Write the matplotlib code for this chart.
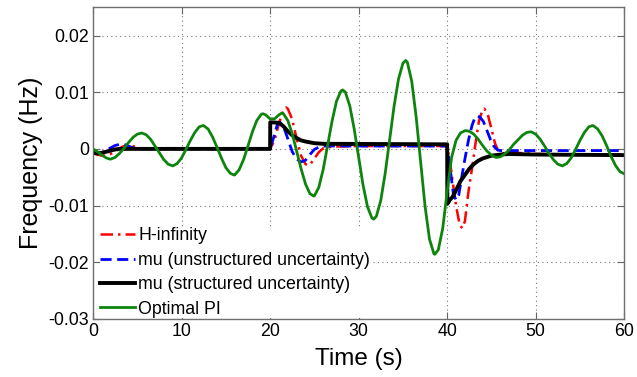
import numpy as np
import matplotlib
matplotlib.use("Agg")
import matplotlib.pyplot as plt
from matplotlib.ticker import FuncFormatter

plt.rcParams["font.family"] = ["Liberation Sans", "DejaVu Sans"]
plt.rcParams["axes.unicode_minus"] = False

# H-infinity
t_hinf = [0, 0.5, 1, 1.5, 2, 2.5, 3, 3.5, 4, 4.5, 5, 5.5, 20, 20.5, 21, 21.5, 21.8, 22, 22.5,
          23, 23.5, 24, 24.3, 24.5, 25, 25.5, 26, 27, 30, 40, 40.3, 40.6, 41, 41.4, 41.7,
          42, 42.4, 42.8, 43.2, 43.6, 44, 44.2, 44.6, 45, 45.4, 45.8, 46.2, 47, 48, 50, 55, 60]
f_hinf = [-0.0008, -0.0010, -0.0012, -0.0012, -0.0009, -0.0004, 0.0001, 0.0005, 0.0006,
          0.0005, 0.0002, 0.0, 0.0, 0.0015, 0.0045, 0.0068, 0.0073, 0.0071, 0.0052,
          0.0018, -0.0012, -0.0027, -0.0029, -0.0028, -0.0017, -0.0006, 0.0001, 0.0004,
          0.0005, 0.0005, -0.0020, -0.0055, -0.0100, -0.0133, -0.0140, -0.0128, -0.0076,
          -0.0035, 0.0010, 0.0050, 0.0069, 0.0071, 0.0060, 0.0035, 0.0010, -0.0005,
          -0.0008, -0.0006, -0.0007, -0.0009, -0.0010, -0.0010]

# mu (unstructured uncertainty)
t_mu_u = [0, 0.5, 1, 1.5, 2, 2.5, 3, 3.5, 4, 4.5, 5, 20, 20.4, 20.8, 21.1, 21.5, 22, 22.5,
          23, 23.5, 24, 24.5, 25, 25.5, 26, 40, 40.3, 40.7, 41, 41.3, 41.7, 42, 42.4, 42.8,
          43.1, 43.4, 43.7, 44.1, 44.5, 44.9, 45.3, 45.7, 46, 60]
f_mu_u = [-0.0006, -0.0007, -0.0006, -0.0003, 0.0002, 0.0006, 0.0008, 0.0008, 0.0005,
          0.0002, 0.0, 0.0, 0.0020, 0.0042, 0.0047, 0.0040, 0.0018, -0.0005, -0.0018,
          -0.0023, -0.0020, -0.0010, -0.0001, 0.0003, 0.0005, 0.0005, -0.0030, -0.0080,
          -0.0090, -0.0082, -0.0045, -0.0018, 0.0015, 0.0041, 0.0054, 0.0058, 0.0056,
          0.0048, 0.0032, 0.0016, 0.0004, -0.0002, -0.0003, -0.0003]

# mu (structured uncertainty)
t_mu_s = [0, 0.5, 1, 1.5, 2, 2.5, 3, 20, 20.02, 21, 21.5, 22, 22.5, 23, 23.5, 24, 25, 26,
          40, 40.02, 40.3, 40.6, 41, 41.5, 42, 42.5, 43, 43.5, 44, 45, 46, 47, 50, 60]
f_mu_s = [-0.0007, -0.0008, -0.0007, -0.0005, -0.0003, -0.0001, 0.0, 0.0, 0.0047, 0.0046,
          0.0040, 0.0031, 0.0024, 0.0019, 0.0015, 0.0013, 0.0010, 0.0009, 0.0008, -0.0097,
          -0.0090, -0.0085, -0.0073, -0.0057, -0.0046, -0.0035, -0.0027, -0.0021, -0.0017,
          -0.0012, -0.0010, -0.0009, -0.0010, -0.0011]

# Optimal PI, read every 0.5 s
t_pi = [i * 0.5 for i in range(121)]
f_pi = [0.0, -0.0005, -0.0011, -0.0016, -0.0018, -0.0015, -0.0008, 0.0001, 0.0011, 0.0020,
        0.0026, 0.0028, 0.0025, 0.0017, 0.0005, -0.0007, -0.0019, -0.0027, -0.0030, -0.0026,
        -0.0016, -0.0001, 0.0015, 0.0029, 0.0039, 0.0041, 0.0035, 0.0021, 0.0003, -0.0016,
        -0.0033, -0.0043, -0.0046, -0.0037, -0.0019, 0.0005, 0.0030, 0.0050, 0.0061, 0.0060,
        0.0053, 0.0053, 0.0060, 0.0062, 0.0050, 0.0027, -0.0004, -0.0035, -0.0062, -0.0079,
        -0.0083, -0.0068, -0.0036, 0.0006, 0.0049, 0.0084, 0.0102, 0.0100, 0.0076, 0.0035,
        -0.0015, -0.0064, -0.0102, -0.0122, -0.0119, -0.0091, -0.0043, 0.0016, 0.0075, 0.0123,
        0.0151, 0.0153, 0.0119, 0.0056, -0.0023, -0.0101, -0.0159, -0.0185, -0.0178, -0.0140,
        -0.0075, -0.0015, 0.0015, 0.0028, 0.0032, 0.0031, 0.0026, 0.0017, 0.0006, -0.0004,
        -0.0011, -0.0015, -0.0014, -0.0009, -0.0002, 0.0008, 0.0016, 0.0024, 0.0029, 0.0030,
        0.0026, 0.0017, 0.0005, -0.0008, -0.0019, -0.0027, -0.0030, -0.0026, -0.0016, -0.0001,
        0.0015, 0.0029, 0.0039, 0.0041, 0.0035, 0.0023, 0.0006, -0.0013, -0.0029, -0.0040,
        -0.0044]
# Optimal PI, peaks and troughs
t_pi_ext = [1.9, 12.4, 15.9, 19.2, 21.3, 24.9, 28.2, 31.7, 35.3, 38.6, 42.2, 45.6, 49.4, 56.4]
f_pi_ext = [-0.0018, 0.0041, -0.0046, 0.0062, 0.0063, -0.0083, 0.0104, -0.0124, 0.0156,
            -0.0186, 0.0032, -0.0015, 0.0030, 0.0041]

labels = ["H-infinity", "mu (unstructured uncertainty)", "mu (structured uncertainty)", "Optimal PI"]

pi_t = np.array(t_pi + t_pi_ext)
pi_f = np.array(f_pi + f_pi_ext)
order = np.argsort(pi_t, kind="stable")

fig = plt.figure(figsize=(6.37, 3.77), dpi=100)
ax = fig.add_axes([0.146, 0.154, 0.834, 0.827])

ax.plot(t_hinf, f_hinf, color="red", lw=1.8, linestyle=(0, (5, 2, 1, 2)), label=labels[0])
ax.plot(t_mu_u, f_mu_u, color="blue", lw=2.0, linestyle=(0, (4, 2)), label=labels[1])
ax.plot(t_mu_s, f_mu_s, color="black", lw=2.8, label=labels[2])
ax.plot(pi_t[order], pi_f[order], color=(0.05, 0.52, 0.05), lw=2.0, label=labels[3],
        solid_joinstyle="round")

ax.set_xlim(0, 60)
ax.set_ylim(-0.03, 0.025)
ax.set_xticks(np.arange(0, 61, 10))
ax.set_yticks([-0.03, -0.02, -0.01, 0, 0.01, 0.02])
ax.yaxis.set_major_formatter(FuncFormatter(lambda v, p: "%g" % round(v, 4)))
ax.grid(True, linestyle=(0, (1, 3)), color="#777777", linewidth=0.8)
ax.tick_params(direction="in", top=True, right=True, length=5, color="#666666",
               labelsize=12.8, pad=3)
for s in ax.spines.values():
    s.set_color("#707070")
    s.set_linewidth(1.0)

ax.set_xlabel("Time (s)", fontsize=17.5, labelpad=6)
ax.set_ylabel("Frequency (Hz)", fontsize=18, labelpad=4)

leg = ax.legend(loc="lower left", bbox_to_anchor=(0.013, 0.004), fontsize=12.8,
                frameon=True, fancybox=False, edgecolor="none", facecolor="white",
                framealpha=1.0, handlelength=2.0, handletextpad=0.15, labelspacing=0.42,
                borderpad=0.0, borderaxespad=0.0)

fig.savefig("out.png", dpi=100)
